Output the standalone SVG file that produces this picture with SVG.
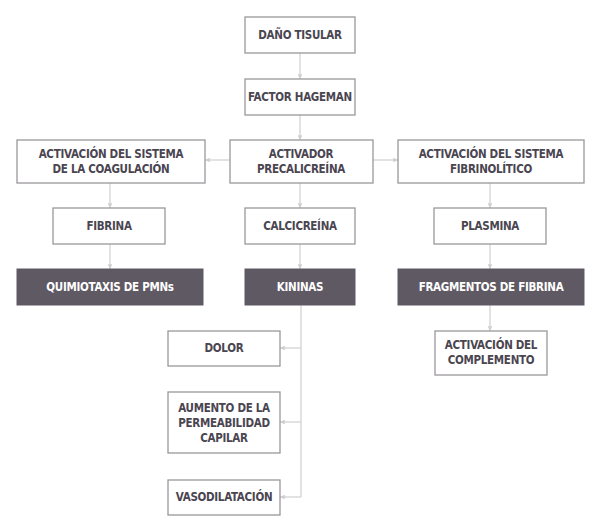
<svg xmlns="http://www.w3.org/2000/svg" width="600" height="531" viewBox="0 0 600 531">
<style>
.b{fill:#fff;stroke:#9a979c;stroke-width:1.3}
.d{fill:#5f5964;stroke:#5f5964}
text{font-family:"DejaVu Sans Condensed","DejaVu Sans",sans-serif;font-weight:bold;font-size:11.5px;fill:#4a4550;text-anchor:middle;letter-spacing:-0.3px}
.w{fill:#fff}
.c{stroke:#cfcfcf;stroke-width:1.2;fill:none;marker-end:url(#a)}
</style>
<defs><marker id="a" viewBox="0 0 6 6" refX="6" refY="3" markerWidth="4" markerHeight="4" orient="auto"><path d="M0,0L6,3L0,6z" fill="#cfcfcf"/></marker></defs>
<rect width="600" height="531" fill="#fff"/>
<g id="connectors">
<path class="c" d="M300,53V79"/>
<path class="c" d="M300,115V140"/>
<path class="c" d="M230,160H205"/>
<path class="c" d="M373,160H398"/>
<path class="c" d="M110,183V208"/>
<path class="c" d="M300,183V208"/>
<path class="c" d="M490,183V208"/>
<path class="c" d="M110,244V269"/>
<path class="c" d="M300,244V269"/>
<path class="c" d="M490,244V269"/>
<path class="c" d="M490,305V331"/>
<path stroke="#cfcfcf" stroke-width="1.2" fill="none" d="M301,305V497"/>
<path class="c" d="M301,348H280"/>
<path class="c" d="M301,422H280"/>
<path class="c" d="M301,497H280"/>
</g>
<g id="n1"><rect class="b" x="245" y="17" width="110" height="36"/><text x="300" y="39">DAÑO TISULAR</text></g>
<g id="n2"><rect class="b" x="245" y="79" width="110" height="36"/><text x="300" y="101">FACTOR HAGEMAN</text></g>
<g id="n3"><rect class="b" x="17" y="140" width="188" height="43"/><text x="111" y="158">ACTIVACIÓN DEL SISTEMA</text><text x="111" y="173">DE LA COAGULACIÓN</text></g>
<g id="n4"><rect class="b" x="230" y="140" width="143" height="43"/><text x="301" y="158">ACTIVADOR</text><text x="301" y="173">PRECALICREÍNA</text></g>
<g id="n5"><rect class="b" x="398" y="140" width="186" height="43"/><text x="491" y="158">ACTIVACIÓN DEL SISTEMA</text><text x="491" y="173">FIBRINOLÍTICO</text></g>
<g id="n6"><rect class="b" x="53" y="208" width="112" height="36"/><text x="109" y="230">FIBRINA</text></g>
<g id="n7"><rect class="b" x="245" y="208" width="110" height="36"/><text x="300" y="230">CALCICREÍNA</text></g>
<g id="n8"><rect class="b" x="434" y="208" width="112" height="36"/><text x="490" y="230">PLASMINA</text></g>
<g id="n9"><rect class="d" x="17" y="269" width="186" height="36"/><text class="w" x="110" y="291">QUIMIOTAXIS DE PMNs</text></g>
<g id="n10"><rect class="d" x="245" y="269" width="110" height="36"/><text class="w" x="300" y="291">KININAS</text></g>
<g id="n11"><rect class="d" x="398" y="269" width="186" height="36"/><text class="w" x="491" y="291">FRAGMENTOS DE FIBRINA</text></g>
<g id="n12"><rect class="b" x="435" y="331" width="112" height="44"/><text x="491" y="349">ACTIVACIÓN DEL</text><text x="491" y="364">COMPLEMENTO</text></g>
<g id="n13"><rect class="b" x="168" y="331" width="112" height="35"/><text x="224" y="352">DOLOR</text></g>
<g id="n14"><rect class="b" x="168" y="392" width="112" height="61"/><text x="224" y="412">AUMENTO DE LA</text><text x="224" y="427">PERMEABILIDAD</text><text x="224" y="442">CAPILAR</text></g>
<g id="n15"><rect class="b" x="168" y="480" width="112" height="35"/><text x="224" y="501">VASODILATACIÓN</text></g>
</svg>
